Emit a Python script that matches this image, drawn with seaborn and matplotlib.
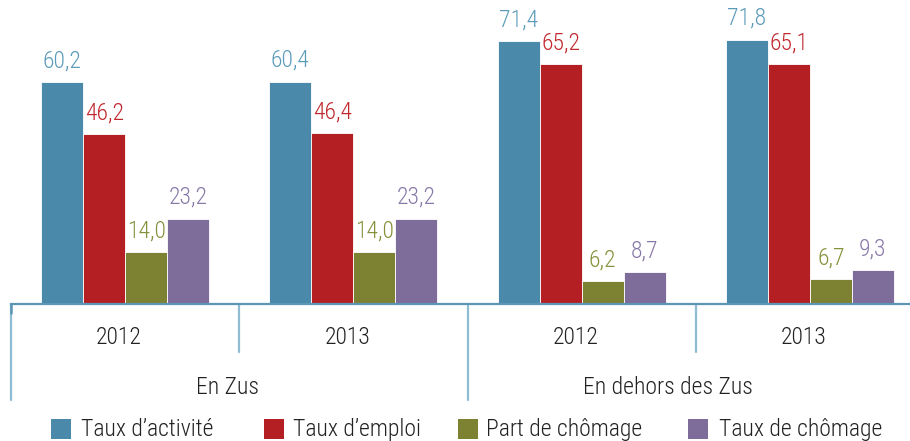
import matplotlib
matplotlib.use("Agg")
import matplotlib.pyplot as plt
from matplotlib import font_manager
from matplotlib.patches import Rectangle
import seaborn as sns
import pandas as pd

# ---- data ----
zones = ["En Zus", "En Zus", "En dehors des Zus", "En dehors des Zus"]
years = ["2012", "2013", "2012", "2013"]
series = ["Taux d’activité", "Taux d’emploi", "Part de chômage", "Taux de chômage"]
taux_activite = [60.2, 60.4, 71.4, 71.8]
taux_emploi = [46.2, 46.4, 65.2, 65.1]
part_chomage = [14.0, 14.0, 6.2, 6.7]
taux_chomage = [23.2, 23.2, 8.7, 9.3]

bar_colors = ["#4a89a9", "#b41f24", "#7d8232", "#7e6c9b"]
label_colors = ["#5b9bba", "#c0272d", "#87903a", "#8878a8"]

names = {f.name for f in font_manager.fontManager.ttflist}
FONT, STRETCH = "DejaVu Sans", "condensed"
for cand in ["Roboto Condensed", "Arial Narrow", "Liberation Sans Narrow", "PT Sans Narrow",
             "Archivo Narrow", "Fira Sans Condensed", "IBM Plex Sans Condensed",
             "Open Sans Condensed", "Asap Condensed"]:
    if cand in names:
        FONT, STRETCH = cand, "normal"
        break
FS = 17
TXT = dict(fontfamily=FONT, fontstretch=STRETCH, fontweight="light")

keys = [z + " " + y for z, y in zip(zones, years)]
rows = []
for s, vals in zip(series, [taux_activite, taux_emploi, part_chomage, taux_chomage]):
    for k, v in zip(keys, vals):
        rows.append({"cat": k, "serie": s, "val": v})
df = pd.DataFrame(rows)

sns.set_theme(style="white")
plt.rcParams["font.family"] = [FONT, "DejaVu Sans"]

W, H = 910, 441
fig = plt.figure(figsize=(W / 100, H / 100), dpi=100)
ax = fig.add_axes([11 / W, (H - 304) / H, 913 / W, 304 / H])

sns.barplot(data=df, x="cat", y="val", hue="serie", order=keys, hue_order=series,
            palette=bar_colors, width=0.736, gap=0, ax=ax, legend=False,
            edgecolor="white", linewidth=0.6, saturation=1)

ax.set_xlim(-0.5, 3.5)
ax.set_ylim(0, 82.6)
for sp in ["top", "left", "right"]:
    ax.spines[sp].set_visible(False)
ax.spines["bottom"].set_color("#5b97b5")
ax.spines["bottom"].set_linewidth(1.6)
ax.set_xticks([])
ax.set_yticks([])
ax.set_xlabel("")
ax.set_ylabel("")

for cont, col in zip(ax.containers, label_colors):
    ax.bar_label(cont, labels=[f"{b.get_height():.1f}".replace(".", ",") for b in cont],
                 padding=7, color=col, fontsize=FS, **TXT)

trans = ax.get_xaxis_transform()
sep_color = "#8fbcd3"
short = -48 / 304
long = -96 / 304
for x, yb in [(-0.5, long), (0.5, short), (1.5, long), (2.5, short)]:
    ax.plot([x, x], [0, yb], transform=trans, color=sep_color, lw=1.6, clip_on=False)
ax.plot([-0.5, -0.5], [0, -9 / 304], transform=trans, color="#5b97b5", lw=1.8, clip_on=False)

for i, y in enumerate(years):
    ax.text(i - 6 / 228.25, -34 / 304, y, transform=trans, ha="center", va="center",
            fontsize=FS, color="#222222", **TXT)

ax.text(0.449, -83 / 304, zones[0], transform=trans, ha="center", va="center",
        fontsize=FS, color="#222222", **TXT)
ax.text(2.378, -83 / 304, zones[2], transform=trans, ha="center", va="center",
        fontsize=FS, color="#222222", **TXT)

sq_x = [51, 264, 458, 688]
tx_x = [81, 293, 486, 719]
for sx, tx, s, c in zip(sq_x, tx_x, series, bar_colors):
    fig.patches.append(Rectangle((sx / W, 2 / H), 20 / W, 20 / H, transform=fig.transFigure,
                                 facecolor=c, edgecolor="none"))
    fig.text(tx / W, 5 / H, s, ha="left", va="baseline", fontsize=FS, color="#222222", **TXT)

fig.savefig("out.png", dpi=100)
